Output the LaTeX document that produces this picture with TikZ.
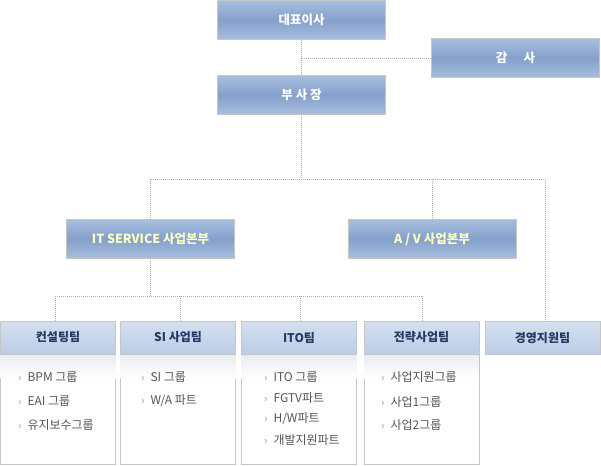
\documentclass[tikz,border=0pt]{standalone}
\usepackage{fontspec}
\setmainfont{Noto Sans CJK KR}
\usetikzlibrary{calc}
\definecolor{tbtop}{HTML}{A7BEDE}
\definecolor{tbmid}{HTML}{85A1CB}
\definecolor{hdtop}{HTML}{D4E0F0}
\definecolor{hdbot}{HTML}{BBCDE6}
\definecolor{bord}{HTML}{C6C6C6}
\definecolor{navy}{HTML}{263A63}
\definecolor{itemgray}{HTML}{555555}
\definecolor{bulletgray}{HTML}{999999}
\definecolor{conngray}{HTML}{B0B0B0}
\definecolor{paleyellow}{HTML}{FFFFC4}
\definecolor{glow}{HTML}{E9ECF0}
\newcommand\bul{{\color{bulletgray}\fontsize{11}{11}\selectfont ›}\hspace{6pt}}
\tikzset{
  topbox/.style={rectangle, draw=bord, line width=0.8pt, top color=tbtop, bottom color=tbtop, middle color=tbmid,
    minimum width=168pt, minimum height=39pt, inner sep=0pt, text=white,
    font=\bfseries\fontsize{12.5}{14}\selectfont},
  divbox/.style={topbox, text=paleyellow},
  headbox/.style={rectangle, draw=bord, line width=0.8pt, top color=hdtop, bottom color=hdbot,
    minimum width=115pt, minimum height=33pt, inner sep=0pt, text=navy,
    font=\bfseries\fontsize{12}{14}\selectfont},
  bodybox/.style={rectangle, draw=bord, line width=0.8pt, fill=white,
    minimum width=115pt, minimum height=110pt, inner sep=0pt, anchor=north},
  item/.style={anchor=west, inner sep=0pt, text=itemgray, font=\fontsize{12}{14}\selectfont},
  conn/.style={draw=conngray, line width=0.8pt, dash pattern=on 1pt off 1pt},
}
\begin{document}
\begin{tikzpicture}[x=1pt,y=-1pt]
\useasboundingbox (0,0) rectangle (601,465);
% top boxes
\node[topbox] (ceo) at (301.5,20) {대표이사};
\node[topbox] (audit) at (515.5,58) {감\hspace{1.3em}사};
\node[topbox] (vp) at (301.5,95) {부 사 장};
\node[divbox] (it) at (150.5,239) {IT SERVICE 사업본부};
\node[divbox] (av) at (432,239) {A / V 사업본부};
% bottom teams: bodies
\foreach \n/\x in {b1/58, b2/178, b3/299, b4/421.5}{
  \node[bodybox] (\n body) at (\x,354) {};
  \shade[top color=glow, bottom color=white] ($(\n body.north west)+(0.5,0)$) rectangle ($(\n body.north east)+(-0.5,24)$);
}
\node[headbox] (b1) at (58,337.5) {컨설팅팀};
\node[headbox] (b2) at (178,337.5) {SI 사업팀};
\node[headbox] (b3) at (299,337.5) {ITO팀};
\node[headbox] (b4) at (421.5,337.5) {전략사업팀};
\node[headbox] (b5) at (542.5,338) {경영지원팀};
% items
\node[item] (i11) at (18,377) {\bul BPM 그룹};
\node[item] (i12) at (18,401) {\bul EAI 그룹};
\node[item] (i13) at (18,425) {\bul 유지보수그룹};
\node[item] (i21) at (141,377) {\bul SI 그룹};
\node[item] (i22) at (141,401) {\bul W/A 파트};
\node[item] (i31) at (264,377) {\bul ITO 그룹};
\node[item] (i32) at (264,398) {\bul FGTV파트};
\node[item] (i33) at (264,419) {\bul H/W파트};
\node[item] (i34) at (264,440) {\bul 개발지원파트};
\node[item] (i41) at (381,377) {\bul 사업지원그룹};
\node[item] (i42) at (381,402) {\bul 사업1그룹};
\node[item] (i43) at (381,425) {\bul 사업2그룹};
% connectors
\coordinate (j1) at (301.5,179);
\coordinate (j2) at (150.5,296);
\draw[conn] (ceo.south) -- (vp.north);
\draw[conn] (ceo.south |- audit.west) -- (audit.west);
\draw[conn] (vp.south) -- (j1);
\draw[conn] (it.north |- j1) -- (545,179) -- (545,321.5);
\draw[conn] (it.north |- j1) -- (it.north);
\draw[conn] (av.north |- j1) -- (av.north);
\draw[conn] (it.south) -- (j2);
\draw[conn] (55,296) -- (422,296);
\draw[conn] (55,296) -- (55,320.5);
\draw[conn] (180,296) -- (180,320.5);
\draw[conn] (300,296) -- (300,320.5);
\draw[conn] (422,296) -- (422,320.5);
\end{tikzpicture}
\end{document}
